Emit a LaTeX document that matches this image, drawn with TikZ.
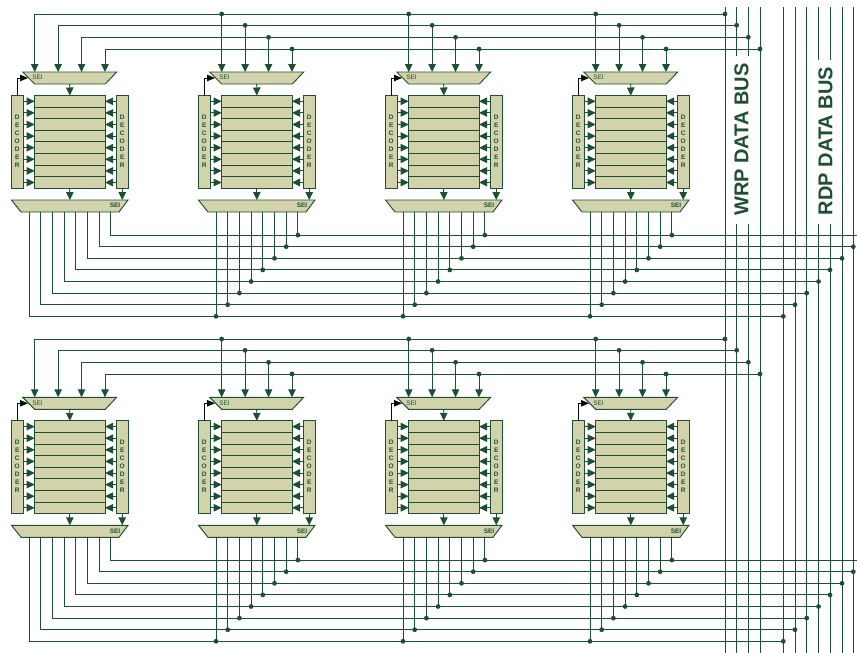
\documentclass[tikz,border=0pt]{standalone}
\usepackage{fontspec}
\setmainfont{Liberation Sans}
\usetikzlibrary{arrows.meta,calc}
\definecolor{wirecol}{HTML}{1F4F33}
\definecolor{bodycol}{HTML}{D3D3AB}
\tikzset{
  wire/.style={draw=wirecol,line width=0.95pt},
  arr/.style={wire,-{Triangle[length=8pt,width=7.5pt]}},
  selarr/.style={draw=black!85!wirecol,line width=0.9pt,-{Triangle[length=8pt,width=6.5pt]}},
  box/.style={draw=wirecol,fill=bodycol,line width=0.95pt,inner sep=0pt,outer sep=0pt},
  rowbox/.style={box,minimum width=70.3pt,minimum height=11.6pt},
  decbox/.style={box,minimum width=11.5pt,minimum height=92.8pt},
  muxshape/.style={draw=wirecol,fill=bodycol,line width=0.95pt,line join=miter},
  muxtop/.style={inner sep=0pt,outer sep=0pt,minimum width=94pt,minimum height=12pt},
  muxbot/.style={inner sep=0pt,outer sep=0pt,minimum width=116.5pt,minimum height=12pt},
  dectext/.style={font=\fontsize{6.5}{8}\selectfont\bfseries,text=wirecol,align=center,inner sep=0pt},
  seltext/.style={font=\fontsize{6.5}{7}\selectfont,text=wirecol,inner sep=0pt},
  selbtext/.style={font=\fontsize{6.5}{8}\selectfont\bfseries,text=wirecol,inner sep=0pt},
  buslabel/.style={font=\fontsize{20}{22}\selectfont\bfseries,text=wirecol,rotate=90,inner sep=0pt},
}
\newcommand\jdot[1]{\fill[wirecol] (#1) circle (2.4pt);}
% prefix, dx, dy
\newcommand\memunit[3]{%
\begin{scope}[shift={(#2,#3)}]
  \draw[muxshape] (22.7,72) -- (116.7,72) -- (105.3,84) -- (34.7,84) -- cycle;
  \node[muxtop] (#1-mt) at (69.7,78) {};
  \node[seltext] (#1-sl) at (37.5,77.5) {SEI};
  \foreach \i in {1,...,8} {
    \node[rowbox] (#1-r\i) at (69.85,{95.5+11.6*(\i-0.5)}) {};
  }
  \node[decbox] (#1-dl) at (17.25,141.9) {};
  \node[decbox] (#1-dr) at (122.25,141.9) {};
  \node[dectext] (#1-tl) at (17.25,141) {D\\E\\C\\O\\D\\E\\R};
  \node[dectext] (#1-tr) at (122.25,141) {D\\E\\C\\O\\D\\E\\R};
  \draw[muxshape] (11.5,200) -- (128,200) -- (119,212) -- (21,212) -- cycle;
  \node[muxbot] (#1-mb) at (69.75,206) {};
  \node[selbtext] (#1-sb) at (115,205.5) {SEI};
  \coordinate (#1-sel) at (28,78);
  \draw[selarr] (#1-dl.north) |- (#1-sel);
  \foreach \i in {1,...,8} {
    \draw[arr] (#1-dl.east |- #1-r\i.west) -- (#1-r\i.west);
    \draw[arr] (#1-dr.west |- #1-r\i.east) -- (#1-r\i.east);
  }
  \draw[arr] (#1-mt.south) -- (#1-r1.north);
  \draw[arr] (#1-r8.south) -- (#1-mb.north -| #1-r8.south);
  \draw[arr] (#1-dr.south) -- (#1-mb.north -| #1-dr.south);
  \foreach \i in {1,...,4} {
    \coordinate (#1-in\i) at ({34.7+23.43*(\i-1)},72);
  }
  \foreach \i in {1,...,8} {
    \coordinate (#1-out\i) at ({29+11.7*(\i-1)},212);
  }
\end{scope}%
}
% row prefix, dy
\newcommand\memrow[2]{%
  \foreach \i/\yy in {1/14,2/25.3,3/37.3,4/49} {
    \coordinate (#1-wj\i) at (0,{\yy+#2});
    \coordinate (#1-bj\i) at ({725+11.67*(\i-1)},{\yy+#2});
    \draw[arr] (#1-bj\i) -- (#1a-in\i |- #1-wj\i) -- (#1a-in\i);
    \draw[arr] (#1b-in\i |- #1-wj\i) -- (#1b-in\i);
    \draw[arr] (#1c-in\i |- #1-wj\i) -- (#1c-in\i);
    \draw[arr] (#1d-in\i |- #1-wj\i) -- (#1d-in\i);
    \jdot{#1-bj\i}
    \jdot{#1b-in\i |- #1-wj\i}
    \jdot{#1c-in\i |- #1-wj\i}
    \jdot{#1d-in\i |- #1-wj\i}
  }
  \foreach \i/\bx in {1/783.3,2/795,3/806.7,4/818.5,5/830,6/842,7/853.3,8/870} {
    \coordinate (#1-rj\i) at (\bx,{316.3-11.6*(\i-1)+#2});
    \draw[wire] (#1a-out\i) |- (#1-rj\i);
    \draw[wire] (#1b-out\i) -- (#1b-out\i |- #1-rj\i);
    \draw[wire] (#1c-out\i) -- (#1c-out\i |- #1-rj\i);
    \draw[wire] (#1d-out\i) -- (#1d-out\i |- #1-rj\i);
    \jdot{#1b-out\i |- #1-rj\i}
    \jdot{#1c-out\i |- #1-rj\i}
    \jdot{#1d-out\i |- #1-rj\i}
    \jdot{#1-rj\i}
  }
}
\begin{document}
\begin{tikzpicture}[x=1pt,y=-1pt]
\useasboundingbox (0,0) rectangle (857,653);
\fill[white] (0,0) rectangle (857,653);
% buses
\node[buslabel] (wrp) at (741.5,139.5) {WRP DATA BUS};
\node[buslabel] (rdp) at (825.5,141) {RDP DATA BUS};
\coordinate (wt1) at (725,7);   \coordinate (wb1) at (725,653);
\coordinate (wt2) at (736.7,7); \coordinate (wb2) at (736.7,653);
\coordinate (wt3) at (748.3,7); \coordinate (wb3) at (748.3,653);
\coordinate (wt4) at (760,7);   \coordinate (wb4) at (760,653);
\draw[wire] (wt1) -- (wb1);
\draw[wire] (wt4) -- (wb4);
\draw[wire] (wt2) -- (736.7,55.7) (736.7,224) -- (wb2);
\draw[wire] (wt3) -- (748.3,55.7) (748.3,224) -- (wb3);
\foreach \n/\x in {1/783.3,2/795,3/806.7,6/842,7/853.3} {
  \coordinate (rt\n) at (\x,7); \coordinate (rb\n) at (\x,653);
  \draw[wire] (rt\n) -- (rb\n);
}
\draw[wire] (818.5,7) -- (818.5,60) (818.5,224) -- (818.5,653);
\draw[wire] (830,7) -- (830,60) (830,224) -- (830,653);
% units
\memunit{ta}{0}{0}
\memunit{tb}{187}{0}
\memunit{tc}{374}{0}
\memunit{td}{561}{0}
\memunit{ba}{0}{325.3}
\memunit{bb}{187}{325.3}
\memunit{bc}{374}{325.3}
\memunit{bd}{561}{325.3}
\memrow{t}{0}
\memrow{b}{325}
\end{tikzpicture}
\end{document}
